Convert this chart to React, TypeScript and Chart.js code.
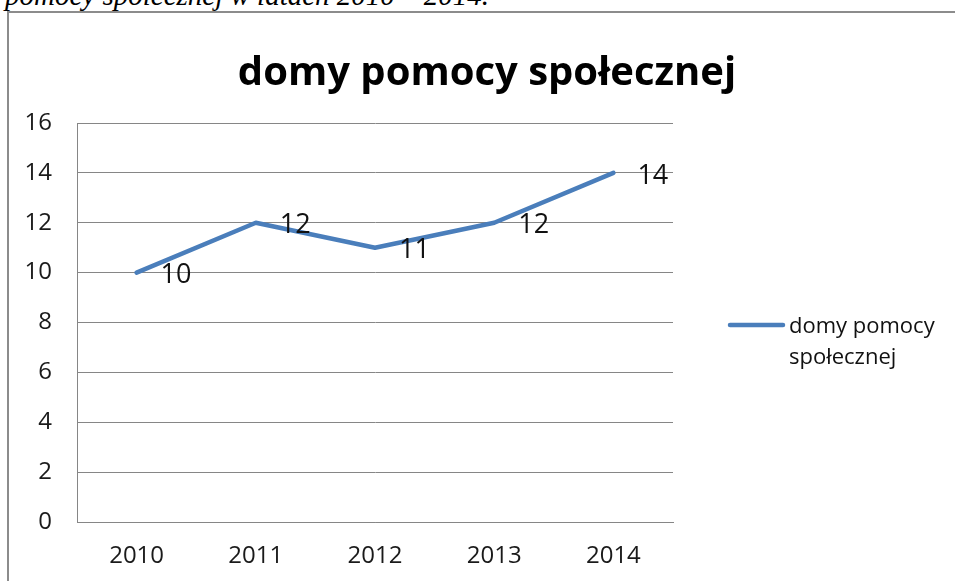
import React, { useEffect, useRef } from "react";
import { Chart, registerables } from "chart.js";

Chart.register(...registerables);

const caption = "pomocy społecznej w latach 2010 – 2014.";
const chartTitle = "domy pomocy społecznej";
const seriesName = "domy pomocy społecznej";
const legendLines = ["domy pomocy", "społecznej"];
const years = ["2010", "2011", "2012", "2013", "2014"];
const values = [10, 12, 11, 12, 14];
const yMin = 0;
const yMax = 16;
const yStep = 2;

const FONT = "'Open Sans', 'Liberation Sans', sans-serif";
const LINE_COLOR = "#4a7ebb";

export default function App() {
  const canvasRef = useRef<HTMLCanvasElement | null>(null);

  useEffect(() => {
    const canvas = canvasRef.current;
    if (!canvas) return;

    const extras = {
      id: "extras",
      afterDatasetsDraw(chart: any) {
        const ctx = chart.ctx;
        const meta = chart.getDatasetMeta(0);
        ctx.save();
        ctx.font = `27px ${FONT}`;
        ctx.fillStyle = "#111";
        ctx.textAlign = "left";
        ctx.textBaseline = "middle";
        meta.data.forEach((pt: any, i: number) => {
          ctx.fillText(String(values[i]), pt.x + 24, pt.y + 3);
        });
        ctx.restore();
      },
      afterDraw(chart: any) {
        const ctx = chart.ctx;
        const area = chart.chartArea;
        ctx.save();
        // title
        ctx.font = `bold 40px ${FONT}`;
        ctx.fillStyle = "#000";
        ctx.textAlign = "center";
        ctx.textBaseline = "alphabetic";
        ctx.fillText(chartTitle, 487, 85);
        // legend
        const ly = (area.top + area.bottom) / 2 + 2.5;
        const lx = area.right + 57;
        ctx.strokeStyle = LINE_COLOR;
        ctx.lineWidth = 4.5;
        ctx.lineCap = "round";
        ctx.beginPath();
        ctx.moveTo(lx, ly);
        ctx.lineTo(lx + 53, ly);
        ctx.stroke();
        ctx.font = `22px ${FONT}`;
        ctx.fillStyle = "#111";
        ctx.textAlign = "left";
        ctx.textBaseline = "middle";
        legendLines.forEach((t, i) => {
          ctx.fillText(t, lx + 59, ly + 2 + i * 31);
        });
        ctx.restore();
      },
    };

    const chart = new Chart(canvas, {
      type: "line",
      data: {
        labels: years,
        datasets: [
          {
            label: seriesName,
            data: values,
            borderColor: LINE_COLOR,
            backgroundColor: LINE_COLOR,
            borderWidth: 4.5,
            borderCapStyle: "round",
            borderJoinStyle: "round",
            pointRadius: 0,
            tension: 0,
          },
        ],
      },
      options: {
        animation: false,
        responsive: false,
        maintainAspectRatio: false,
        layout: { padding: { top: 123, right: 282, left: 0, bottom: 0 } },
        plugins: {
          legend: { display: false },
          title: { display: false },
          tooltip: { enabled: false },
        },
        scales: {
          x: {
            offset: true,
            grid: { display: false, drawTicks: false },
            border: { display: true, color: "#868686", width: 1 },
            ticks: {
              color: "#1a1a1a",
              font: { family: FONT, size: 24 },
              padding: 20,
              maxRotation: 0,
            },
            afterFit(scale: any) {
              scale.height = 59;
            },
          },
          y: {
            min: yMin,
            max: yMax,
            grid: { color: "#868686", lineWidth: 1, drawTicks: false },
            border: { display: true, color: "#868686", width: 1 },
            ticks: {
              stepSize: yStep,
              color: "#1a1a1a",
              font: { family: FONT, size: 24 },
              padding: 25,
            },
            afterFit(scale: any) {
              scale.width = 77;
            },
          },
        },
      },
      plugins: [extras],
    });

    return () => chart.destroy();
  }, []);

  return (
    <div
      style={{
        position: "fixed",
        left: 0,
        top: 0,
        width: 955,
        height: 581,
        overflow: "hidden",
        background: "#fff",
      }}
    >
      <div
        style={{
          position: "absolute",
          left: 5,
          top: -19,
          fontFamily: "'Liberation Serif', 'Times New Roman', serif",
          fontStyle: "italic",
          fontSize: 29,
          lineHeight: "29px",
          whiteSpace: "nowrap",
          color: "#000",
        }}
      >
        {caption}
      </div>
      <div
        style={{
          position: "absolute",
          left: 7,
          top: 11,
          width: 960,
          height: 600,
          borderLeft: "2px solid #8c8c8c",
          borderTop: "2px solid #8c8c8c",
        }}
      />
      <canvas
        ref={canvasRef}
        width={955}
        height={581}
        style={{ position: "absolute", left: 0, top: 0, width: 955, height: 581 }}
      />
    </div>
  );
}
